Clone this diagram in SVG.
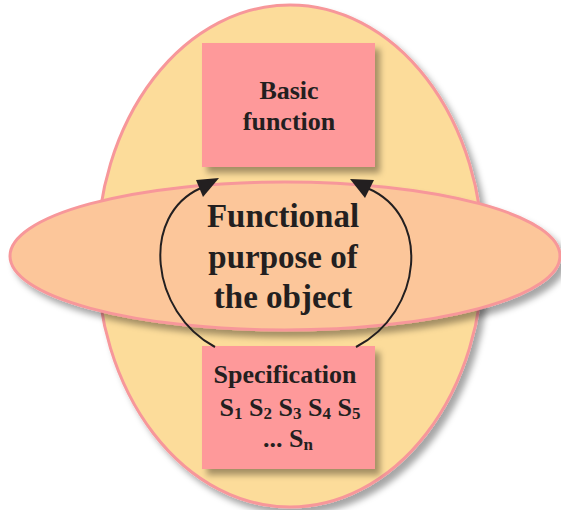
<svg xmlns="http://www.w3.org/2000/svg" width="561" height="510" viewBox="0 0 561 510">
  <defs>
    <filter id="sh" x="-10%" y="-10%" width="130%" height="130%">
      <feDropShadow dx="5" dy="6" stdDeviation="3" flood-color="#000" flood-opacity="0.35"/>
    </filter>
    <style>
      .outer { fill: #FCDC9A; stroke: #F7979A; stroke-width: 3; }
      .band { fill: #FCC69A; stroke: #F7979A; stroke-width: 3; }
      .box { fill: #FE999A; }
      .lbl { font-weight: bold; fill: #231F20; text-anchor: middle; }
      .arc { fill: none; stroke: #231F20; stroke-width: 2; }
      .head { fill: #231F20; }
    </style>
  </defs>
  <rect width="561" height="510" fill="#FFFFFF"/>
  <g id="outer-ellipse">
    <ellipse class="outer" cx="290" cy="256" rx="193" ry="251" filter="url(#sh)"/>
  </g>
  <g font-family="'Liberation Serif', 'Times New Roman', 'DejaVu Serif', serif">
  <g id="basic-function">
    <rect class="box" x="202" y="43" width="173" height="124" filter="url(#sh)"/>
    <text class="lbl" font-size="26" x="289" y="99">Basic</text>
    <text class="lbl" font-size="26" x="289" y="130">function</text>
  </g>
  <g id="functional-purpose">
    <ellipse class="band" cx="285" cy="256" rx="275" ry="74" filter="url(#sh)"/>
    <text class="lbl" font-size="33" x="283" y="227">Functional</text>
    <text class="lbl" font-size="33" x="283" y="268">purpose of</text>
    <text class="lbl" font-size="33" x="283" y="308">the object</text>
  </g>
  <g id="specification">
    <rect class="box" x="202" y="346" width="173" height="123" filter="url(#sh)"/>
    <text class="lbl" font-size="26" x="285" y="383">Specification</text>
    <text class="lbl" font-size="26" x="290" y="416">S<tspan font-size="17" dy="3">1</tspan><tspan dy="-3"> S</tspan><tspan font-size="17" dy="3">2</tspan><tspan dy="-3"> S</tspan><tspan font-size="17" dy="3">3</tspan><tspan dy="-3"> S</tspan><tspan font-size="17" dy="3">4</tspan><tspan dy="-3"> S</tspan><tspan font-size="17" dy="3">5</tspan></text>
    <text class="lbl" font-size="26" x="288" y="447">... S<tspan font-size="17" dy="3">n</tspan></text>
  </g>
  </g>
  <g id="connectors">
    <path class="arc" d="M215,347 C150,312 140,215 201,188"/>
    <polygon class="head" points="196,180 219,178 203,197"/>
    <path class="arc" d="M356,347 C423,312 432,215 367,188"/>
    <polygon class="head" points="350,179 374,180 365,198"/>
  </g>
</svg>
